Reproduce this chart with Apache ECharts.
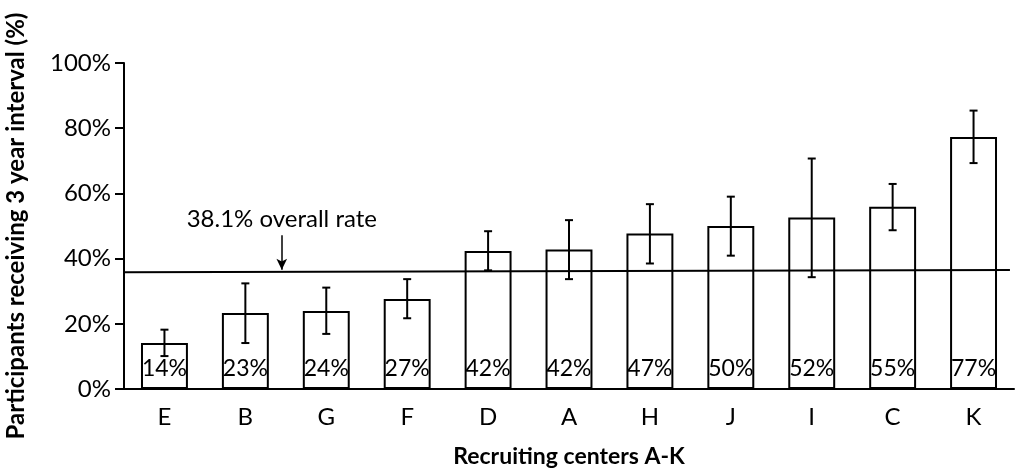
<!DOCTYPE html>
<html>
<head>
<meta charset="utf-8">
<script src="https://cdn.jsdelivr.net/npm/echarts@6/dist/echarts.min.js"></script>
<style>
html,body{margin:0;padding:0;background:#fff;}
#chart{width:1016px;height:468px;}
</style>
</head>
<body>
<div id="chart"></div>
<script>
const categories = ['E','B','G','F','D','A','H','J','I','C','K'];
const values = [14.1, 23.3, 23.9, 27.6, 42.3, 42.8, 47.7, 50.0, 52.6, 55.9, 77.3];
const lowerCI = [10.1, 14.1, 16.9, 21.7, 36.4, 33.7, 38.5, 40.9, 34.3, 48.7, 69.3];
const upperCI = [18.2, 32.4, 31.1, 33.7, 48.4, 51.8, 56.7, 59.0, 70.7, 62.9, 85.4];
const barLabels = ['14%','23%','24%','27%','42%','42%','47%','50%','52%','55%','77%'];
const yTickValues = [0, 20, 40, 60, 80, 100];
const overallLine = [[-0.5, 35.8], [10.45, 36.5]];
const overallText = '38.1% overall rate';
const arrowX = 1.45;
const arrowTop = 47.2;
const arrowBottom = 36.6;

const FONT = 'Lato';
const chart = echarts.init(document.getElementById('chart'));
const errData = categories.map((c, i) => [i, lowerCI[i], upperCI[i]]);

chart.setOption({
  animation: false,
  backgroundColor: '#fff',
  textStyle: {fontFamily: FONT, color: '#000'},
  grid: {left: 124, right: 2, top: 63, bottom: 79, containLabel: false, outerBoundsMode: 'none'},
  xAxis: [{
    type: 'category',
    data: categories,
    name: 'Recruiting centers A-K',
    nameLocation: 'middle',
    nameGap: 56,
    nameTextStyle: {fontFamily: FONT, fontWeight: 'bold', fontSize: 23, color: '#000'},
    axisLine: {lineStyle: {color: '#000', width: 2}},
    axisTick: {show: false},
    axisLabel: {fontFamily: FONT, fontSize: 24, color: '#000', margin: 16}
  }, {
    type: 'value', min: -0.5, max: 10.5, show: false
  }],
  yAxis: {
    type: 'value',
    min: 0, max: 100, interval: 20,
    name: 'Participants receiving 3 year interval (%)',
    nameLocation: 'middle',
    nameGap: 96,
    nameTextStyle: {fontFamily: FONT, fontWeight: 'bold', fontSize: 24, color: '#000'},
    axisLine: {show: true, onZero: false, lineStyle: {color: '#000', width: 2}},
    axisTick: {show: true, length: 9, lineStyle: {color: '#000', width: 2}},
    splitLine: {show: false},
    axisLabel: {
      fontFamily: FONT, fontSize: 24, color: '#000', margin: 13,
      formatter: v => yTickValues.indexOf(v) >= 0 ? v + '%' : ''
    }
  },
  series: [{
    type: 'bar',
    data: values,
    barWidth: '58%',
    itemStyle: {color: '#fff', borderColor: '#000', borderWidth: 2},
    label: {
      show: true, position: 'insideBottom', distance: 9,
      fontFamily: FONT, fontSize: 23, color: '#000',
      formatter: p => barLabels[p.dataIndex]
    },
    z: 2
  }, {
    type: 'line',
    xAxisIndex: 1,
    data: overallLine,
    symbol: 'none',
    lineStyle: {color: '#000', width: 2},
    z: 3,
    markLine: {
      silent: true,
      symbol: ['none', 'arrow'],
      symbolSize: [8, 11],
      lineStyle: {color: '#000', width: 1.5, type: 'solid'},
      label: {
        show: true, position: 'start', distance: 4,
        fontFamily: FONT, fontSize: 24, color: '#000',
        formatter: overallText
      },
      data: [[{coord: [arrowX, arrowTop]}, {coord: [arrowX, arrowBottom]}]]
    }
  }, {
    type: 'custom',
    data: errData,
    z: 4,
    renderItem: function (params, api) {
      const i = api.value(0);
      const lo = api.coord([i, api.value(1)]);
      const hi = api.coord([i, api.value(2)]);
      const cap = 4;
      const st = {stroke: '#000', lineWidth: 2};
      return {
        type: 'group',
        children: [
          {type: 'line', shape: {x1: lo[0], y1: lo[1], x2: hi[0], y2: hi[1]}, style: st},
          {type: 'line', shape: {x1: lo[0] - cap, y1: lo[1], x2: lo[0] + cap, y2: lo[1]}, style: st},
          {type: 'line', shape: {x1: hi[0] - cap, y1: hi[1], x2: hi[0] + cap, y2: hi[1]}, style: st}
        ]
      };
    }
  }]
});
</script>
</body>
</html>
